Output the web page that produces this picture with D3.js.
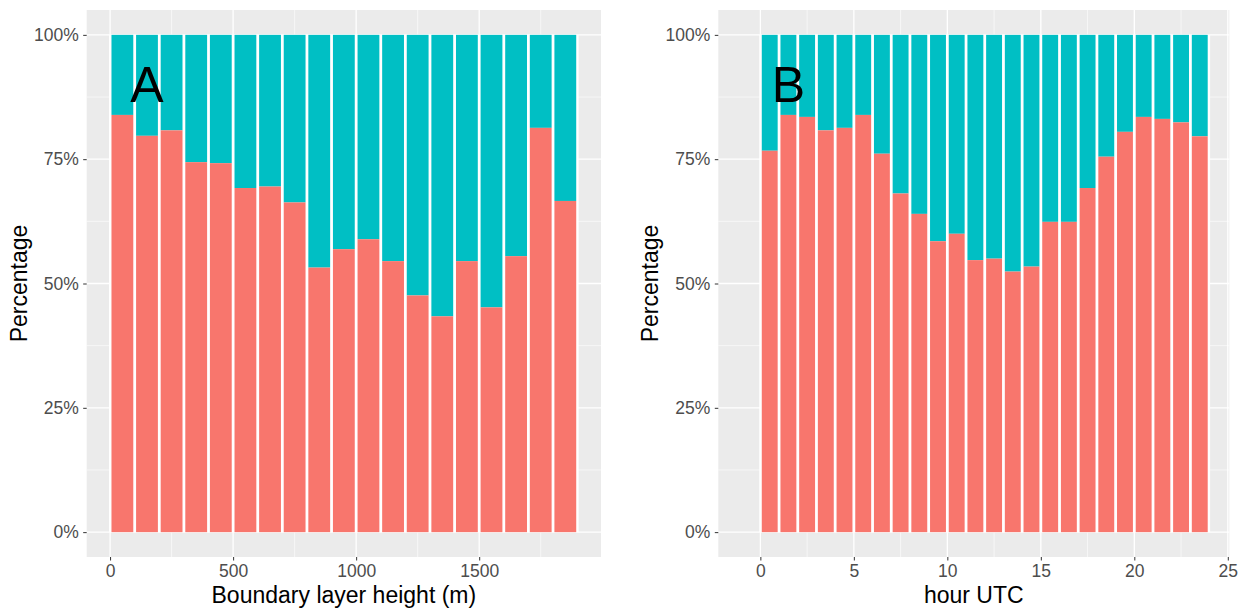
<!DOCTYPE html>
<html><head><meta charset="utf-8">
<script src="https://cdn.jsdelivr.net/npm/d3@7"></script>
<style>body{margin:0;background:#fff}svg{display:block}</style>
</head><body>
<svg id="chart" width="1245" height="615"></svg>
<script>
// ---- data ----
const blhBinStart = [0,100,200,300,400,500,600,700,800,900,1000,1100,1200,1300,1400,1500,1600,1700,1800];
const blhBinWidth = 100;
const blhRedPct = [83.9,79.7,80.8,74.4,74.2,69.2,69.5,66.3,53.2,56.9,58.9,54.5,47.6,43.4,54.5,45.2,55.5,81.3,66.6];

const hourBinStart = [0,1,2,3,4,5,6,7,8,9,10,11,12,13,14,15,16,17,18,19,20,21,22,23];
const hourBinWidth = 1;
const hourRedPct = [76.7,83.9,83.5,80.8,81.3,83.9,76.1,68.1,64.0,58.5,60.0,54.7,55.0,52.4,53.4,62.4,62.4,69.2,75.5,80.5,83.5,83.1,82.4,79.6];

const yTicks = [0,0.25,0.5,0.75,1];
const yMinor = [0.125,0.375,0.625,0.875];
const blhTicks = [0,500,1000,1500];
const blhMinor = [250,750,1250,1750];
const hourTicks = [0,5,10,15,20,25];
const hourMinor = [2.5,7.5,12.5,17.5,22.5];

const colRed = "#F8766D", colTeal = "#00BFC4";
const FONT = "'Liberation Sans', Arial, Helvetica, sans-serif";

const svg = d3.select("#chart");

function panel(cfg){
  const g = svg.append("g");
  const x = d3.scaleLinear().domain(cfg.xDomain).range([cfg.left, cfg.right]);
  const y = d3.scaleLinear().domain([-0.05, 1.05]).range([557, 10]);

  // background
  g.append("rect").attr("x", cfg.left).attr("y", 10)
    .attr("width", cfg.right - cfg.left).attr("height", 547).attr("fill", "#EBEBEB");

  // minor grid
  g.selectAll(".ymin").data(yMinor).join("line")
    .attr("x1", cfg.left).attr("x2", cfg.right).attr("y1", d=>y(d)).attr("y2", d=>y(d))
    .attr("stroke", "#fff").attr("stroke-width", 0.6);
  g.selectAll(".xmin").data(cfg.minor).join("line")
    .attr("y1", 10).attr("y2", 557).attr("x1", d=>x(d)).attr("x2", d=>x(d))
    .attr("stroke", "#fff").attr("stroke-width", 0.6);
  // major grid
  g.selectAll(".ymaj").data(yTicks).join("line")
    .attr("x1", cfg.left).attr("x2", cfg.right).attr("y1", d=>y(d)).attr("y2", d=>y(d))
    .attr("stroke", "#fff").attr("stroke-width", 1.3);
  g.selectAll(".xmaj").data(cfg.ticks).join("line")
    .attr("y1", 10).attr("y2", 557).attr("x1", d=>x(d)).attr("x2", d=>x(d))
    .attr("stroke", "#fff").attr("stroke-width", 1.3);

  // white gaps between bars
  const first = cfg.bins[0], last = cfg.bins[cfg.bins.length-1] + cfg.bw;
  g.append("rect").attr("x", x(first) - 1).attr("y", y(1))
    .attr("width", x(last) - x(first) + 2).attr("height", y(0) - y(1)).attr("fill", "#fff");

  const data = cfg.bins.map((b,i)=>({b, v: cfg.vals[i]/100}));
  const gap = 1.4;
  g.selectAll(".teal").data(data).join("rect")
    .attr("x", d=>x(d.b)+gap).attr("width", d=>x(d.b+cfg.bw)-x(d.b)-2*gap)
    .attr("y", y(1)).attr("height", d=>y(d.v)-y(1)).attr("fill", colTeal);
  g.selectAll(".red").data(data).join("rect")
    .attr("x", d=>x(d.b)+gap).attr("width", d=>x(d.b+cfg.bw)-x(d.b)-2*gap)
    .attr("y", d=>y(d.v)).attr("height", d=>y(0)-y(d.v)).attr("fill", colRed);

  // panel letter
  g.append("text").attr("x", x(cfg.letterX)).attr("y", y(0.9))
    .attr("text-anchor", "middle").attr("dominant-baseline", "central")
    .attr("font-family", FONT).attr("font-size", 50).attr("fill", "#000").text(cfg.letter);

  // axes
  const yAxis = d3.axisLeft(y).tickValues(yTicks).tickFormat(d3.format(".0%")).tickSize(3.5).tickPadding(4.5);
  const ya = g.append("g").attr("transform", `translate(${cfg.left},0)`).call(yAxis);
  const xAxis = d3.axisBottom(x).tickValues(cfg.ticks).tickFormat(d3.format("d")).tickSize(3.5).tickPadding(4);
  const xa = g.append("g").attr("transform", `translate(0,557)`).call(xAxis);
  [ya, xa].forEach(a=>{
    a.select(".domain").remove();
    a.selectAll(".tick line").attr("stroke", "#333").attr("stroke-width", 1);
    a.selectAll(".tick text").attr("fill", "#4D4D4D").attr("font-family", FONT).attr("font-size", 17.5);
  });

  // titles
  g.append("text").attr("x", (cfg.left+cfg.right)/2).attr("y", 603)
    .attr("text-anchor", "middle").attr("font-family", FONT).attr("font-size", 23)
    .attr("fill", "#000").text(cfg.xTitle);
  g.append("text").attr("transform", `translate(${cfg.left-60},283.5) rotate(-90)`)
    .attr("text-anchor", "middle").attr("font-family", FONT).attr("font-size", 23)
    .attr("fill", "#000").text("Percentage");
}

panel({left: 86.7, right: 601, xDomain: [-95, 1995], bins: blhBinStart, bw: blhBinWidth,
  vals: blhRedPct, ticks: blhTicks, minor: blhMinor, letter: "A", letterX: 150,
  xTitle: "Boundary layer height (m)"});
panel({left: 718.3, right: 1229.3, xDomain: [-2.25, 25.08], bins: hourBinStart, bw: hourBinWidth,
  vals: hourRedPct, ticks: hourTicks, minor: hourMinor, letter: "B", letterX: 1.5,
  xTitle: "hour UTC"});
</script>
</body></html>
